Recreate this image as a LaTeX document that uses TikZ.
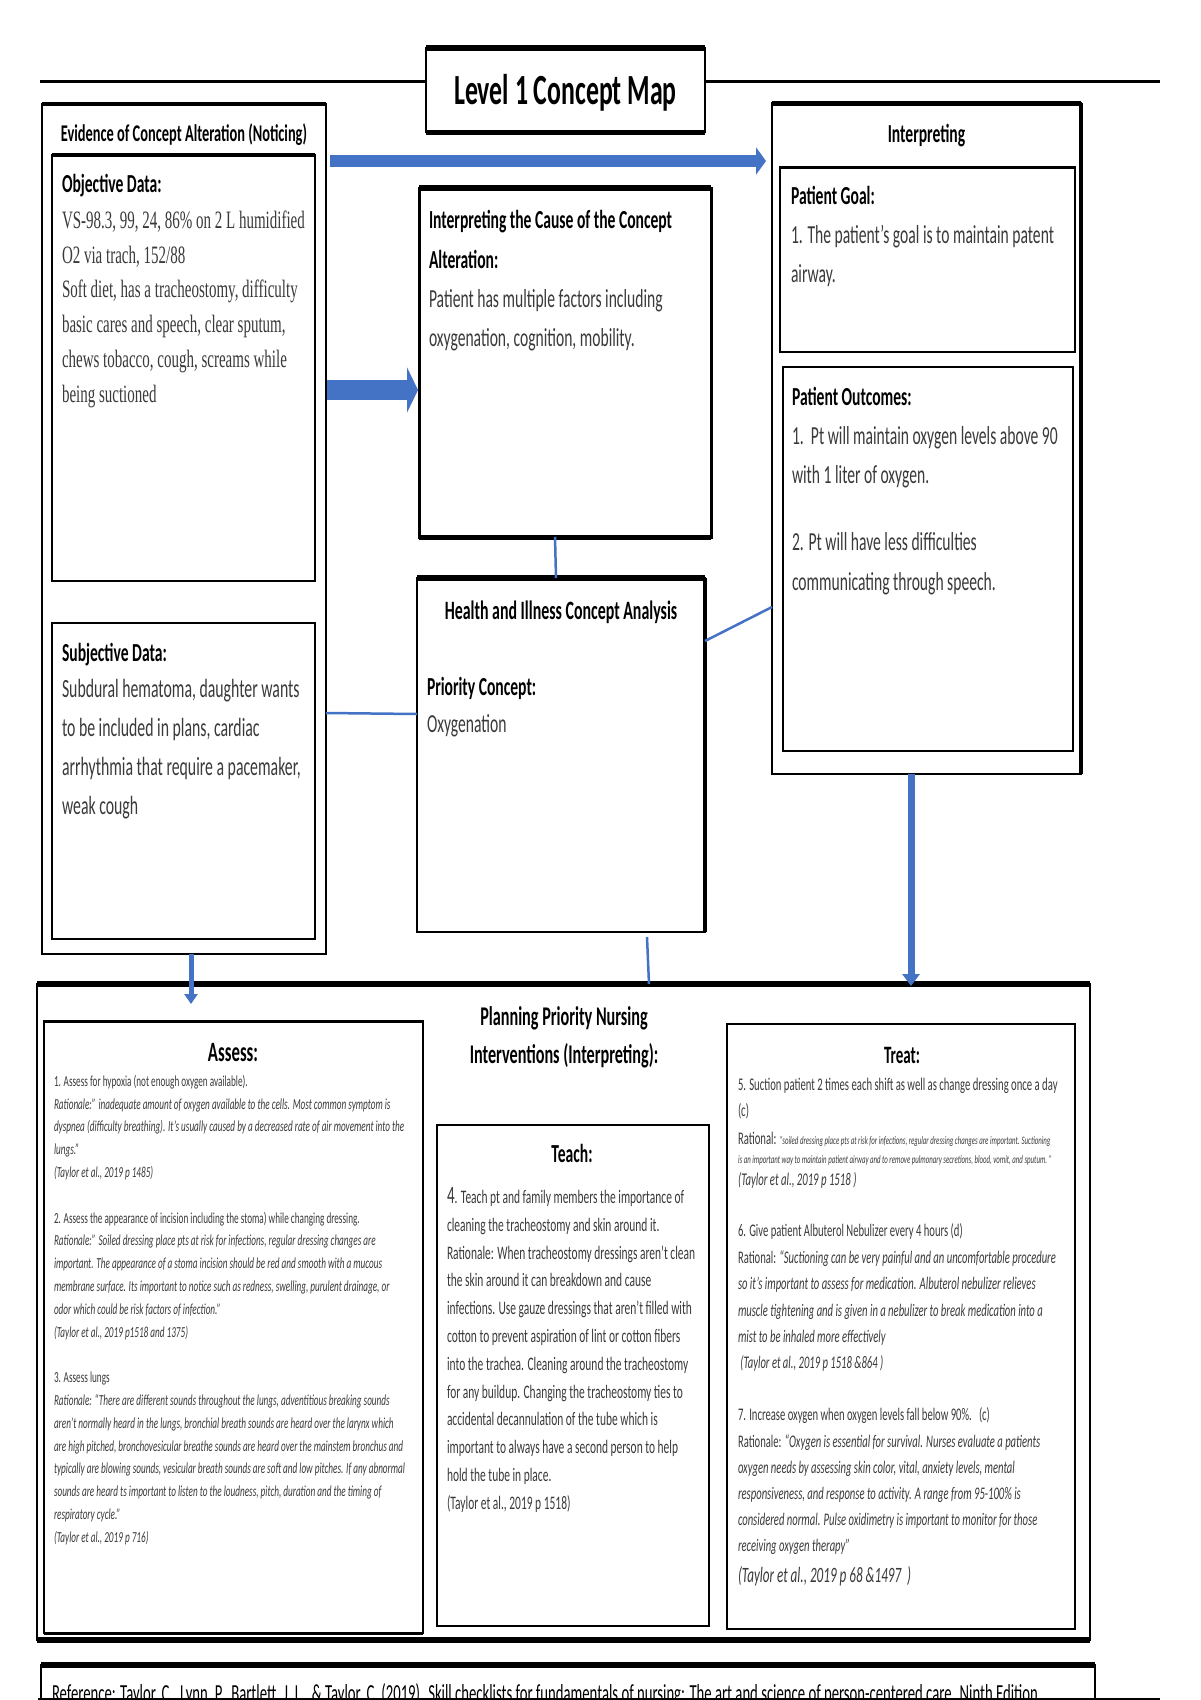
\documentclass[tikz,border=0pt]{standalone}
\usepackage{fontspec}
\setmainfont{Carlito}[FakeStretch=0.6]
\newfontfamily\tnr{Liberation Serif}[FakeStretch=0.6]
\usetikzlibrary{arrows.meta,calc}
\definecolor{obl}{HTML}{4472C4}
\definecolor{txt}{HTML}{3A3A3A}
\newcommand\fs[2]{\fontsize{#1}{#2}\selectfont}
\begin{document}
\begin{tikzpicture}[x=1pt,y=-1pt,
  bx/.style={draw=black, line width=2.5pt, inner sep=0pt, outer sep=0pt, fill=white, anchor=north west},
  tx/.style={inner sep=0pt, outer sep=0pt, align=left, anchor=north west, text=txt},
  hd/.style={inner sep=0pt, outer sep=0pt, align=center, anchor=north, text=black},
  conn/.style={draw=obl, line width=2.5pt},
  barrow/.style={draw=obl, fill=obl}]
\useasboundingbox (0,0) rectangle (1200,1700);
\clip (0,0) rectangle (1200,1700);
\fill[white] (0,0) rectangle (1200,1700);

% page rule
\coordinate (tl1) at (40,81); \coordinate (tl2) at (1160,81);
\draw[line width=3pt] (tl1) -- (tl2);

% title
\node[bx, minimum width=279, minimum height=84] (titlebox) at (426,48) {};
\draw[line width=6pt] (titlebox.north west) -- (titlebox.north east);
\draw[line width=5pt] (titlebox.south west) -- (titlebox.south east);
\node[hd, font=\bfseries\fs{43}{50}] (title) at (565.5,69) {\strut Level 1 Concept Map};

% Evidence column
\node[bx, minimum width=284, minimum height=850] (evid) at (42,104) {};
\draw[line width=3.5pt] (evid.north west) -- (evid.north east);
\node[hd, font=\bfseries\fs{24}{30}] (evidh) at (184,120) {\strut Evidence of Concept Alteration (Noticing)};

\node[bx, minimum width=263, minimum height=426] (obj) at (52,155) {};
\draw[line width=3.5pt] (obj.north west) -- (obj.north east);
\node[tx, text=black, font=\bfseries\fs{26}{35}] (objh) at (62,168.3) {\strut Objective Data:};
\node[tx, font=\tnr\fs{25}{34.8}] (objt) at (62,204) {\strut VS-98.3, 99, 24, 86\% on 2 L humidified\\
O2 via trach, 152/88\\
Soft diet, has a tracheostomy, difficulty\\
basic cares and speech, clear sputum,\\
chews tobacco, cough, screams while\\
being suctioned};

\node[bx, minimum width=263, minimum height=316] (subj) at (52,623) {};
\node[tx, text=black, font=\bfseries\fs{26}{39}] (subh) at (62,634.5) {\strut Subjective Data:};
\node[tx, font=\fs{26.3}{39}] (subt) at (62,670.5) {\strut Subdural hematoma, daughter wants\\
to be included in plans, cardiac\\
arrhythmia that require a pacemaker,\\
weak cough};

% Cause box
\node[bx, line width=3pt, minimum width=292, minimum height=349] (cause) at (419,188) {};
\draw[line width=6pt] (cause.north west) -- (cause.north east);
\draw[line width=5pt] (cause.south west) -- (cause.south east);
\node[tx, font=\fs{26}{39.2}] (causet) at (429,201.4) {\strut\textcolor{black}{\bfseries Interpreting the Cause of the Concept}\\
\textcolor{black}{\bfseries Alteration:}\\
Patient has multiple factors including\\
oxygenation, cognition, mobility.};

% Health box
\node[bx, minimum width=288, minimum height=354] (health) at (417,578) {};
\draw[line width=6pt] (health.north west) -- (health.north east);
\draw[line width=3.5pt] (health.north east) -- (health.south east);
\node[hd, font=\bfseries\fs{26.5}{39}] (healthh) at (561,591.7) {\strut Health and Illness Concept Analysis};
\node[tx, font=\fs{26}{37}] (pc) at (427,670) {\strut\textcolor{black}{\bfseries Priority Concept:}\\
Oxygenation};

% Interpreting column
\node[bx, minimum width=309, minimum height=671] (interp) at (772,103) {};
\draw[line width=5pt] (interp.north west) -- (interp.north east);
\draw[line width=3.5pt] (interp.north east) -- (interp.south east);
\node[hd, font=\bfseries\fs{26}{39}] (interph) at (926.5,115.5) {\strut Interpreting};

\node[bx, minimum width=295, minimum height=185] (goal) at (780,167) {};
\draw[line width=3pt] (goal.north west) -- (goal.north east);
\node[tx, font=\fs{26}{39}] (goalt) at (791,177.5) {\strut\textcolor{black}{\bfseries Patient Goal:}\\
1. The patient’s goal is to maintain patent\\
airway.};

\node[bx, minimum width=290, minimum height=384] (outc) at (783,367) {};
\node[tx, font=\fs{26}{39.3}] (outct) at (792,377.5) {\strut\textcolor{black}{\bfseries Patient Outcomes:}\\
1.\ \ Pt will maintain oxygen levels above 90\\
with 1 liter of oxygen.};
\node[tx, font=\fs{26}{40}] (outct2) at (792,522.3) {\strut 2. Pt will have less difficulties\\
communicating through speech.};

% Planning
\node[bx, minimum width=1053, minimum height=656] (plan) at (37,984) {};
\draw[line width=6pt] (plan.north west) -- (plan.north east);
\draw[line width=6pt] (plan.south west) -- (plan.south east);
\node[hd, font=\bfseries\fs{27}{38}] (planh) at (564,998.5) {\strut Planning Priority Nursing\\ Interventions (Interpreting):};

% Assess
\node[bx, minimum width=379, minimum height=612] (assess) at (44,1021) {};
\draw[line width=3pt] (assess.north west) -- (assess.north east);
\draw[line width=3pt] (assess.south west) -- (assess.south east);
\node[hd, font=\bfseries\fs{28}{34}] (assessh) at (233,1037.6) {\strut Assess:};
\node[tx, font=\fs{15.3}{22.8}] (assesst) at (54,1070.3) {\strut 1. Assess for hypoxia (not enough oxygen available).\\
\textit{Rationale:” inadequate amount of oxygen available to the cells. Most common symptom is}\\
\textit{dyspnea (difficulty breathing). It’s usually caused by a decreased rate of air movement into the}\\
\textit{lungs.”}\\
\textit{(Taylor et al., 2019 p 1485)}\\[22.8pt]
2. Assess the appearance of incision including the stoma) while changing dressing.\\
\textit{Rationale:” Soiled dressing place pts at risk for infections, regular dressing changes are}\\
\textit{important. The appearance of a stoma incision should be red and smooth with a mucous}\\
\textit{membrane surface. Its important to notice such as redness, swelling, purulent drainage, or}\\
\textit{odor which could be risk factors of infection.”}\\
\textit{(Taylor et al., 2019 p1518 and 1375)}\\[22.8pt]
3. Assess lungs\\
\textit{Rationale: “There are different sounds throughout the lungs, adventitious breaking sounds}\\
\textit{aren’t normally heard in the lungs, bronchial breath sounds are heard over the larynx which}\\
\textit{are high pitched, bronchovesicular breathe sounds are heard over the mainstem bronchus and}\\
\textit{typically are blowing sounds, vesicular breath sounds are soft and low pitches. If any abnormal}\\
\textit{sounds are heard ts important to listen to the loudness, pitch, duration and the timing of}\\
\textit{respiratory cycle.”}\\
\textit{(Taylor et al., 2019 p 716)}};

% Teach
\node[bx, minimum width=272, minimum height=501] (teach) at (437,1125) {};
\node[hd, font=\bfseries\fs{26}{32}] (teachh) at (572,1140.4) {\strut Teach:};
\node[tx, font=\fs{19.1}{27.8}] (teacht) at (447,1184) {\strut{\fs{25}{27.8}4}. Teach pt and family members the importance of\\
cleaning the tracheostomy and skin around it.\\
Rationale: When tracheostomy dressings aren’t clean\\
the skin around it can breakdown and cause\\
infections. Use gauze dressings that aren’t filled with\\
cotton to prevent aspiration of lint or cotton fibers\\
into the trachea. Cleaning around the tracheostomy\\
for any buildup. Changing the tracheostomy ties to\\
accidental decannulation of the tube which is\\
important to always have a second person to help\\
hold the tube in place.\\
(Taylor et al., 2019 p 1518)};

% Treat
\node[bx, minimum width=348, minimum height=605] (treat) at (727,1024) {};
\node[hd, font=\bfseries\fs{25}{32}] (treath) at (902,1041.1) {\strut Treat:};
\node[tx, font=\fs{17.8}{25.5}] (t5) at (738,1073) {\strut 5. Suction patient 2 times each shift as well as change dressing once a day\\
(c)};
\node[tx, font=\fs{17.8}{19}] (t5r) at (738,1131.6) {\strut Rational: {\fs{11.4}{19}\itshape “soiled dressing place pts at risk for infections, regular dressing changes are important. Suctioning}\\
{\fs{11.4}{19}\itshape is an important way to maintain patient airway and to remove pulmonary secretions, blood, vomit, and sputum. ”}};
\node[tx, font=\itshape\fs{17.9}{25}] (t5c) at (738,1168.4) {\strut (Taylor et al., 2019 p 1518 )};
\node[tx, font=\fs{17.7}{26.4}] (t6) at (738,1218.4) {\strut 6. Give patient Albuterol Nebulizer every 4 hours (d)\\
Rational: \textit{“Suctioning can be very painful and an uncomfortable procedure}\\
\textit{so it’s important to assess for medication. Albuterol nebulizer relieves}\\
\textit{muscle tightening and is given in a nebulizer to break medication into a}\\
\textit{mist to be inhaled more effectively}\\
\textit{\ (Taylor et al., 2019 p 1518 \&864 )}};
\node[tx, font=\fs{17.7}{26.2}] (t7) at (738,1402.6) {\strut 7. Increase oxygen when oxygen levels fall below 90\%.\ \ \ (c)\\
Rationale: \textit{“Oxygen is essential for survival. Nurses evaluate a patients}\\
\textit{oxygen needs by assessing skin color, vital, anxiety levels, mental}\\
\textit{responsiveness, and response to activity. A range from 95-100\% is}\\
\textit{considered normal. Pulse oxidimetry is important to monitor for those}\\
\textit{receiving oxygen therapy”}};
\node[tx, font=\itshape\fs{21.9}{25}] (t7c) at (738,1564.6) {\strut (Taylor et al., 2019 p 68 \&1497\ \ )};

% Reference
\node[bx, minimum width=1054, minimum height=60] (ref) at (41,1665) {};
\draw[line width=6pt] (ref.north west) -- (ref.north east);
\node[tx, text=black, font=\fs{24.5}{30}] (reft) at (52,1680) {\strut Reference: Taylor, C., Lynn, P., Bartlett, J. L., \& Taylor, C. (2019). Skill checklists for fundamentals of nursing: The art and science of person-centered care. Ninth Edition};
\coordinate (bl1) at (38,1699); \coordinate (bl2) at (1160,1699);
\draw[line width=3pt] (bl1) -- (bl2);

% thin connectors
\draw[conn] ($(cause.south west)+(136,0)$) -- ($(health.north west)+(139,0)$);
\draw[conn] ($(evid.north east)+(0,609)$) -- ($(health.north west)+(0,136)$);
\draw[conn] ($(health.north east)+(0,63)$) -- ($(interp.north west)+(0,504)$);
\draw[conn] ($(health.south west)+(230,5)$) -- ($(plan.north west)+(612,0)$);

% block arrows
\draw[barrow, line width=12pt, -{Triangle[length=10pt,width=27pt]}] ($(evid.north east)+(4,57)$) -- ($(interp.north west)+(-6,58)$);
\draw[barrow, line width=20pt, -{Triangle[length=11pt,width=45pt]}] ($(evid.north east)+(1,286)$) -- ($(cause.north west)+(-1,202)$);
\draw[barrow, line width=7pt, -{Triangle[length=12pt,width=17pt]}] ($(interp.south west)+(139,0)$) -- ($(plan.north west)+(874,2)$);
\draw[barrow, line width=5pt, -{Triangle[length=10pt,width=13pt]}] ($(evid.south west)+(149,0)$) -- ($(plan.north west)+(154,20)$);
\end{tikzpicture}
\end{document}
